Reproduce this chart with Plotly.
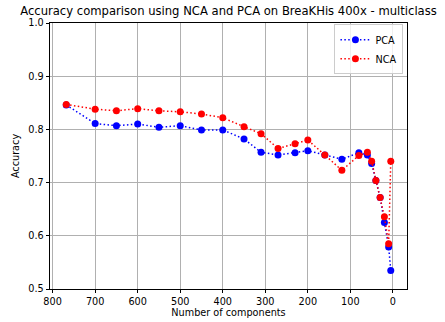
import plotly.graph_objects as go

components = [768, 700, 650, 600, 550, 500, 450, 400, 350, 310, 270, 230, 200,
              160, 120, 80, 60, 50, 40, 30, 20, 10, 5]
pca_acc = [0.846, 0.811, 0.807, 0.810, 0.804, 0.807, 0.799, 0.799, 0.782, 0.757,
           0.752, 0.756, 0.760, 0.752, 0.744, 0.756, 0.752, 0.736, 0.704, 0.672,
           0.625, 0.579, 0.535]
nca_acc = [0.847, 0.838, 0.835, 0.839, 0.835, 0.833, 0.829, 0.822, 0.805, 0.792,
           0.764, 0.773, 0.780, 0.752, 0.723, 0.751, 0.757, 0.740, 0.704, 0.672,
           0.636, 0.585, 0.740]

x_ticks = [800, 700, 600, 500, 400, 300, 200, 100, 0]
y_ticks = [0.5, 0.6, 0.7, 0.8, 0.9, 1.0]

FONT = "DejaVu Sans"
DOT = "1.5px,2.4px"

fig = go.Figure()
fig.add_trace(go.Scatter(x=components, y=pca_acc, name="PCA", mode="lines+markers",
                         line=dict(color="#0000ff", width=1.5, dash=DOT),
                         marker=dict(color="#0000ff", size=7)))
fig.add_trace(go.Scatter(x=components, y=nca_acc, name="NCA", mode="lines+markers",
                         line=dict(color="#ff0000", width=1.5, dash=DOT),
                         marker=dict(color="#ff0000", size=7)))

span = max(components) - min(components)
xr = [max(components) + 0.05 * span, min(components) - 0.05 * span]

axis_common = dict(showline=True, linecolor="black", linewidth=0.8, mirror=True,
                   ticks="outside", ticklen=3.5, tickwidth=0.8, tickcolor="black",
                   showgrid=True, gridcolor="#b0b0b0", gridwidth=0.8, zeroline=False,
                   automargin=False,
                   tickfont=dict(family=FONT, size=9.7, color="black"))

fig.update_layout(
    width=445, height=322,
    margin=dict(l=50, r=38, t=23, b=33),
    paper_bgcolor="white", plot_bgcolor="white",
    font=dict(family=FONT, color="black"),
    title=dict(text="Accuracy comparison using NCA and PCA on BreaKHis 400x - multiclass",
               x=(50 + 407) / 2 / 445, xanchor="center", y=1 - 11 / 322, yanchor="middle",
               font=dict(family=FONT, size=11.6, color="black")),
    xaxis=dict(range=xr, tickvals=x_ticks, ticktext=[str(v) for v in x_ticks],
               title=dict(text="Number of components", font=dict(family=FONT, size=9.7),
                          standoff=3),
               **axis_common),
    yaxis=dict(range=[0.5, 1.0], tickvals=y_ticks, ticktext=[f"{v:.1f}" for v in y_ticks],
               title=dict(text="Accuracy", font=dict(family=FONT, size=9.7), standoff=6),
               **axis_common),
    legend=dict(x=0.99, y=0.995, xanchor="right", yanchor="top",
                bordercolor="#cccccc", borderwidth=1, bgcolor="rgba(255,255,255,0.8)",
                font=dict(family=FONT, size=9.7), itemwidth=30,
                tracegroupgap=0),
    showlegend=True,
)

fig.write_html("out.html")
